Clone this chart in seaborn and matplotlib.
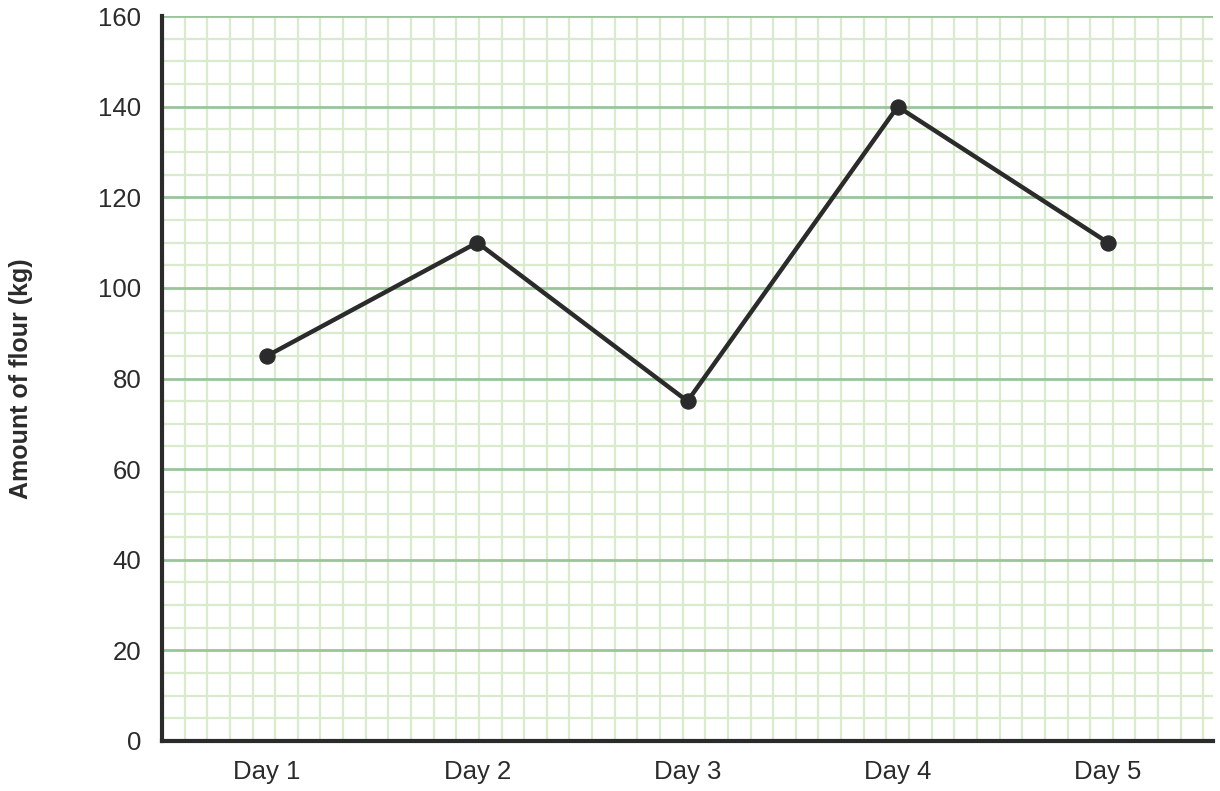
import numpy as np
import pandas as pd
import matplotlib.pyplot as plt
import seaborn as sns

days = ["Day 1", "Day 2", "Day 3", "Day 4", "Day 5"]
flour_kg = [85, 110, 75, 140, 110]

df = pd.DataFrame({"day": days, "flour": flour_kg})
df["pos"] = range(len(days))

sns.set_style("white")
plt.rcParams["font.family"] = ["Liberation Sans", "DejaVu Sans"]

fig = plt.figure(figsize=(12.2, 7.91), dpi=100)
ax = fig.add_axes([162 / 1220, 1 - 741 / 791, 1051 / 1220, 725 / 791])

# graph paper grid
ax.set_xlim(-0.5, 4.5)
ax.set_ylim(0, 160)
cell = 22.67 / 210.5
ax.set_xticks(np.arange(-0.5 + cell, 4.5, cell), minor=True)
ax.set_yticks(np.arange(0, 161, 5), minor=True)
ax.set_yticks(np.arange(0, 161, 20))
ax.set_xticks(df["pos"])
ax.set_xticklabels(days)
ax.grid(which="minor", color="#d9ebcc", linewidth=1.6, zorder=0)
ax.grid(which="major", axis="y", color="#9cc49b", linewidth=2.0, zorder=1)
ax.grid(which="major", axis="x", visible=False)
ax.set_axisbelow(True)

sns.lineplot(data=df, x="pos", y="flour", ax=ax, color="#2b2b2b", linewidth=3.2,
             marker="o", markersize=11, markeredgecolor="#2b2b2b", zorder=5)

for s in ["top", "right"]:
    ax.spines[s].set_visible(False)
for s in ["left", "bottom"]:
    ax.spines[s].set_color("#2b2b2b")
    ax.spines[s].set_linewidth(3)
    ax.spines[s].set_zorder(6)

ax.tick_params(axis="both", which="both", length=0, labelsize=18.5, colors="#2b2b2b")
ax.tick_params(axis="x", pad=14)
ax.tick_params(axis="y", pad=15)
ax.set_xlabel("")
ax.set_ylabel("Amount of flour (kg)", fontsize=18, fontweight="bold", color="#2b2b2b")
ax.yaxis.set_label_coords(-0.1227, 0.5)

fig.savefig("out.png", dpi=100)
